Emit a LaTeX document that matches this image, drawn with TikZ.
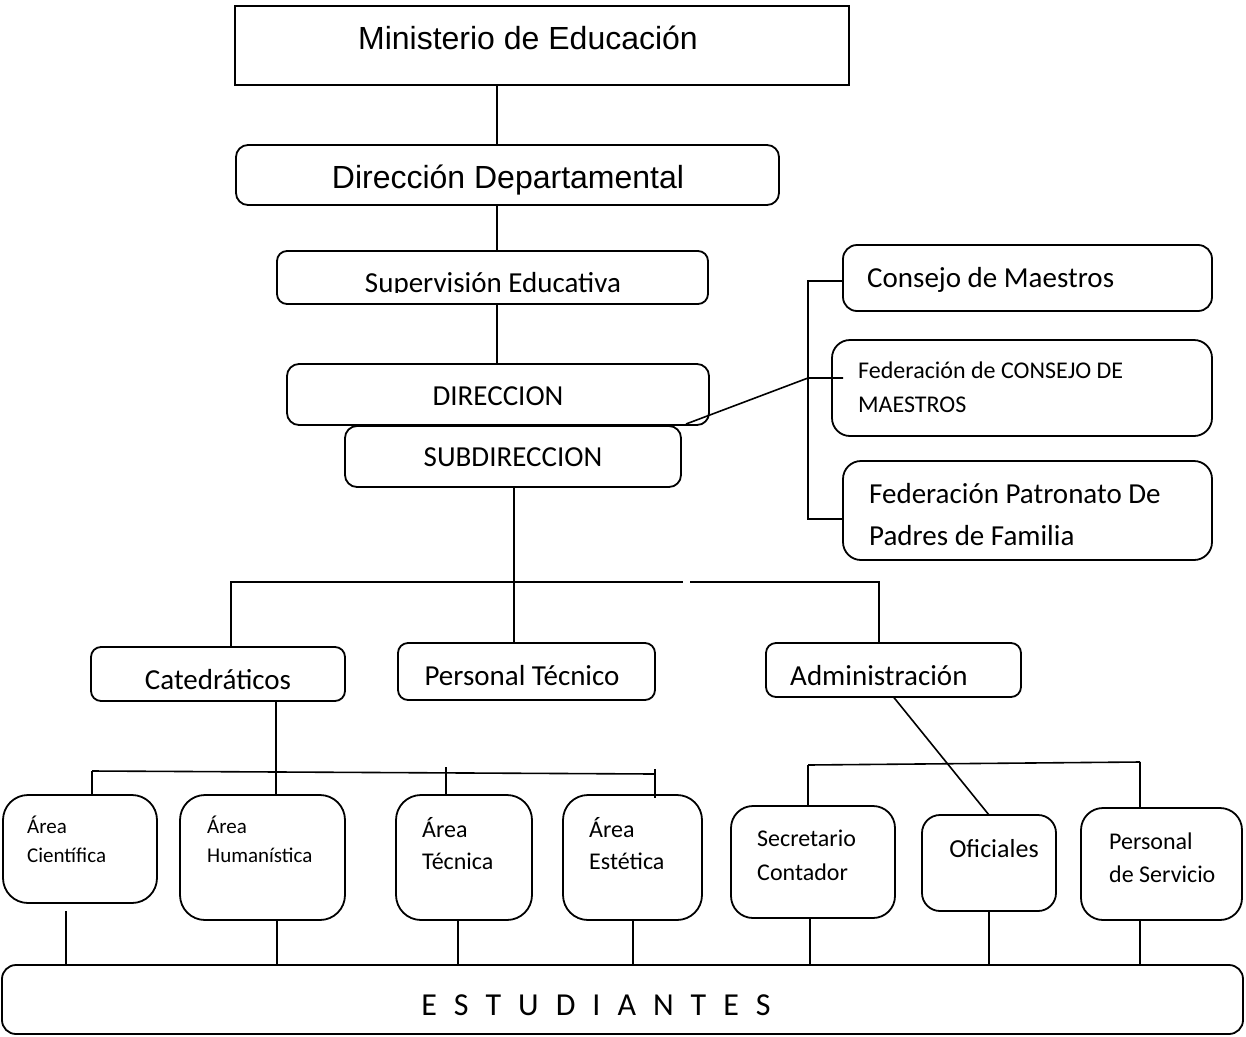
\documentclass[tikz,border=0pt]{standalone}
\usepackage{fontspec}
\setmainfont{Carlito}
\newfontfamily\arialf{Liberation Sans}
\begin{document}
\begin{tikzpicture}[x=1pt,y=-1pt,
  box/.style={draw, line width=1.8pt, inner sep=0pt, outer sep=0pt, rounded corners=#1},
  box/.default=12pt,
  sq/.style={draw, line width=1.8pt, inner sep=0pt, outer sep=0pt},
  conn/.style={line width=1.6pt},
  tl/.style={inner sep=0pt, anchor=base west},
  tc/.style={inner sep=0pt, anchor=base},
  fA/.style={font=\arialf\fontsize{32}{38}\selectfont},
  fB/.style={font=\fontsize{29}{35}\selectfont},
  fC/.style={font=\fontsize{24}{29}\selectfont},
  fD/.style={font=\fontsize{21}{26}\selectfont},
  fE/.style={font=\fontsize{26}{31}\selectfont}
]
\useasboundingbox (0,0) rectangle (1246,1036);
% boxes
\node[sq, minimum width=614, minimum height=79] (min) at (542,45.5) {};
\node[box=12pt, minimum width=543, minimum height=60] (dd) at (507.5,175) {};
\node[box=10pt, minimum width=431, minimum height=53] (sup) at (492.5,277.5) {};
\node[box=12pt, minimum width=422, minimum height=61] (dir) at (498,394.5) {};
\node[box=12pt, minimum width=336, minimum height=61] (sub) at (513,456.5) {};
\node[box=14pt, minimum width=369, minimum height=66] (cm) at (1027.5,278) {};
\node[box=18pt, minimum width=380, minimum height=96] (fc) at (1022,388) {};
\node[box=18pt, minimum width=369, minimum height=99] (fp) at (1027.5,510.5) {};
\node[box=10pt, minimum width=254, minimum height=54] (cat) at (218,674) {};
\node[box=10pt, minimum width=257, minimum height=57] (pt) at (526.5,671.5) {};
\node[box=10pt, minimum width=255, minimum height=54] (adm) at (893.5,670) {};
\node[box=25pt, minimum width=154, minimum height=108] (cie) at (80,849) {};
\node[box=25pt, minimum width=165, minimum height=125] (hum) at (262.5,857.5) {};
\node[box=25pt, minimum width=136, minimum height=125] (tec) at (464,857.5) {};
\node[box=25pt, minimum width=139, minimum height=125] (est) at (632.5,857.5) {};
\node[box=22pt, minimum width=164, minimum height=112] (sec) at (813,862) {};
\node[box=18pt, minimum width=134, minimum height=96] (ofi) at (989,863) {};
\node[box=22pt, minimum width=161, minimum height=112] (ps) at (1161.5,864) {};
\node[box=14pt, minimum width=1241, minimum height=69] (stu) at (622.5,999.5) {};
% texts
\node[tc, fA] (tmin) at (528,49) {Ministerio de Educación};
\node[tc, fA] (tdd) at (508,188) {Dirección Departamental};
\begin{scope}
\clip (277,251) rectangle (708,292.5);
\node[tc, fB] (tsup) at (493,292) {Supervisión Educativa};
\end{scope}
\node[tc, fB] (tdir) at (498,405) {DIRECCION};
\node[tc, fB] (tsub) at (513,466) {SUBDIRECCION};
\node[tl, fB] (tcm) at (867,287) {Consejo de Maestros};
\node[tl, fC] (tfc1) at (858,378) {Federación de CONSEJO DE};
\node[tl, fC] (tfc2) at (858,412) {MAESTROS};
\node[tl, fB] (tfp1) at (869,503) {Federación Patronato De};
\node[tl, fB] (tfp2) at (869,545) {Padres de Familia};
\node[tc, fB] (tcat) at (218,689) {Catedráticos};
\node[tc, fB] (tpt) at (522,685) {Personal Técnico};
\node[tl, fB] (tadm) at (790,685) {Administración};
\node[tl, fD] (tcie1) at (27,833) {Área};
\node[tl, fD] (tcie2) at (27,862) {Científica};
\node[tl, fD] (thum1) at (207,833) {Área};
\node[tl, fD] (thum2) at (207,862) {Humanística};
\node[tl, fC] (ttec1) at (422,837) {Área};
\node[tl, fC] (ttec2) at (422,869) {Técnica};
\node[tl, fC] (test1) at (589,837) {Área};
\node[tl, fC] (test2) at (589,869) {Estética};
\node[tl, fC] (tsec1) at (757,846) {Secretario};
\node[tl, fC] (tsec2) at (757,880) {Contador};
\node[tc, fE] (tofi) at (994,857) {Oficiales};
\node[tl, fC] (tps1) at (1109,849) {Personal};
\node[tl, fC] (tps2) at (1109,882) {de Servicio};
\node[tc, font=\fontsize{32}{38}\selectfont] (tstu) at (596,1015) {\spaceskip=17pt E S T U D I A N T E S};
% connector coordinates
\coordinate (v1) at (497,0);
\coordinate (v2) at (514,0);
\coordinate (j1) at (231,582);
\coordinate (j2) at (683,582);
\coordinate (j3) at (690,582);
\coordinate (j4) at (879,582);
\coordinate (b1) at (808,281);
\coordinate (b2) at (808,519);
\coordinate (b3) at (808,378);
\coordinate (d0) at (686,424);
\coordinate (c1) at (92,771);
\coordinate (c2) at (655,774);
\coordinate (c3) at (276,0);
\coordinate (t1) at (446,767);
\coordinate (t2) at (655,769);
\coordinate (t3) at (655,798);
\coordinate (a1) at (808,765);
\coordinate (a2) at (1140,762);
\coordinate (e1) at (66,911);
% connectors
\draw[conn] (v1 |- min.south) -- (v1 |- dd.north);
\draw[conn] (v1 |- dd.south) -- (v1 |- sup.north);
\draw[conn] (v1 |- sup.south) -- (v1 |- dir.north);
\draw[conn] (v2 |- sub.south) -- (v2 |- pt.north);
\draw[conn] (j1 |- cat.north) -- (j1) -- (j2);
\draw[conn] (j3) -- (j4) -- (j4 |- adm.north);
\draw[conn] (cm.west |- b1) -- (b1) -- (b2) -- (fp.west |- b2);
\draw[conn] (d0) -- (b3) -- (b3 -| cm.west);
\draw[conn] (c3 |- cat.south) -- (c3 |- hum.north);
\draw[conn] (c1) -- (c2);
\draw[conn] (c1) -- (c1 |- cie.north);
\draw[conn] (t1) -- (t1 |- tec.north);
\draw[conn] (t2) -- (t3);
\draw[conn] (adm.south) -- (ofi.north);
\draw[conn] (a1) -- (a2);
\draw[conn] (a1) -- (a1 |- sec.north);
\draw[conn] (a2) -- (a2 |- ps.north);
\draw[conn] (e1) -- (e1 |- stu.north);
\draw[conn] (hum.south -| 277,0) -- (stu.north -| 277,0);
\draw[conn] (tec.south -| 458,0) -- (stu.north -| 458,0);
\draw[conn] (est.south -| 633,0) -- (stu.north -| 633,0);
\draw[conn] (sec.south -| 810,0) -- (stu.north -| 810,0);
\draw[conn] (ofi.south) -- (ofi.south |- stu.north);
\draw[conn] (ps.south -| 1140,0) -- (stu.north -| 1140,0);
\end{tikzpicture}
\end{document}
